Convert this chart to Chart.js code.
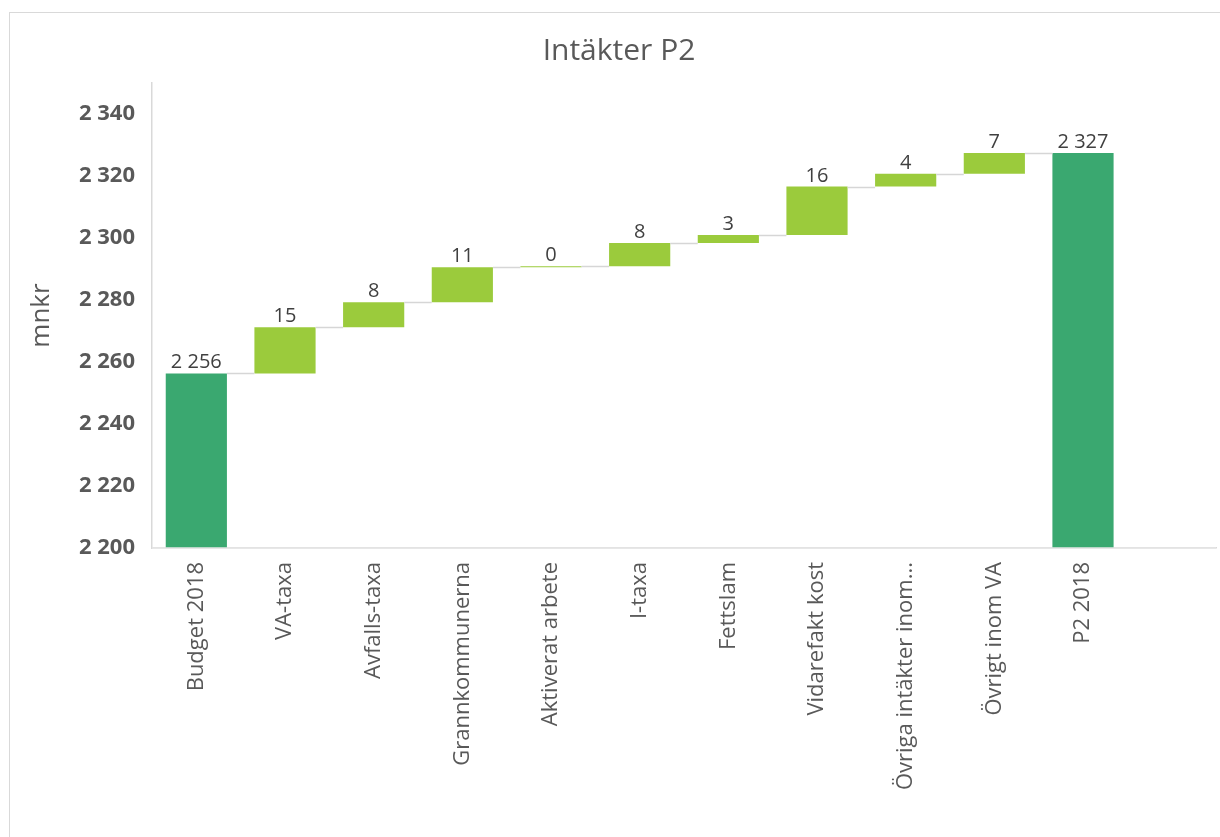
<!DOCTYPE html>
<html>
<head>
<meta charset="utf-8">
<script src="https://cdn.jsdelivr.net/npm/chart.js@4.4.1/dist/chart.umd.min.js"></script>
<style>
  html, body { margin: 0; padding: 0; background: #ffffff; }
  #frame { position: absolute; left: 9px; top: 12px; width: 1300px; height: 900px; border: 1px solid #d9d9d9; box-sizing: border-box; }
  #wrap { position: absolute; left: 0; top: 0; width: 1220px; height: 837px; }
</style>
</head>
<body>
<div id="frame"></div>
<div id="wrap"><canvas id="c"></canvas></div>
<script>
// ---- data ----
const categories = ['Budget 2018', 'VA-taxa', 'Avfalls-taxa', 'Grannkommunerna', 'Aktiverat arbete',
  'I-taxa', 'Fettslam', 'Vidarefakt kost', 'Övriga intäkter inom...', 'Övrigt inom VA', 'P2 2018'];
const startTotal = 2256.3;            // Budget 2018
const changes = [14.9, 8.1, 11.3, 0.3, 7.5, 2.6, 15.6, 4.1, 6.7];
const endTotal = 2327.4;              // P2 2018
const yMin = 2200, yMax = 2350, yStep = 20;
const chartTitle = 'Intäkter P2';
const yTitle = 'mnkr';

const totalColor = '#3AA870';
const changeColor = '#9BCB3C';
const textColor = '#595959';

function fmt(v) {
  return String(Math.round(v)).replace(/\B(?=(\d{3})+(?!\d))/g, ' ');
}

// build floating bars
const ranges = [];
const labelsVals = [];
const colors = [];
ranges.push([yMin, startTotal]); labelsVals.push(startTotal); colors.push(totalColor);
let run = startTotal;
changes.forEach(d => {
  ranges.push([run, run + d]); labelsVals.push(d); colors.push(changeColor);
  run += d;
});
ranges.push([yMin, endTotal]); labelsVals.push(endTotal); colors.push(totalColor);
// extra empty slot at the right end of the category axis
const xLabels = categories.concat(['']);
ranges.push(null);

const waterfallPlugin = {
  id: 'waterfall',
  afterDatasetsDraw(chart) {
    const ctx = chart.ctx;
    const meta = chart.getDatasetMeta(0);
    const y = chart.scales.y;
    const area = chart.chartArea;
    ctx.save();
    // axis line drawn over the total bars, as in the reference
    ctx.strokeStyle = '#e6e6e6';
    ctx.lineWidth = 1.5;
    ctx.beginPath();
    ctx.moveTo(area.left, area.bottom);
    ctx.lineTo(area.right, area.bottom);
    ctx.stroke();
    // connectors
    ctx.strokeStyle = '#d6d6d6';
    ctx.lineWidth = 1.5;
    for (let i = 0; i < categories.length - 1; i++) {
      const a = meta.data[i], b = meta.data[i + 1];
      const top = ranges[i][1];
      const py = Math.round(y.getPixelForValue(top)) + 0.5;
      ctx.beginPath();
      ctx.moveTo(a.x + a.width / 2, py);
      ctx.lineTo(b.x - b.width / 2, py);
      ctx.stroke();
    }
    // value labels
    ctx.fillStyle = '#404040';
    ctx.font = '20px "Open Sans"';
    ctx.textAlign = 'center';
    ctx.textBaseline = 'alphabetic';
    for (let i = 0; i < categories.length; i++) {
      const el = meta.data[i];
      const topVal = Math.max(ranges[i][0], ranges[i][1]);
      const py = y.getPixelForValue(topVal);
      ctx.fillText(fmt(labelsVals[i]), el.x, py - 5);
    }
    ctx.restore();
  }
};

new Chart(document.getElementById('c'), {
  type: 'bar',
  data: {
    labels: xLabels,
    datasets: [{
      data: ranges,
      backgroundColor: colors,
      borderWidth: 0,
      categoryPercentage: 1,
      barPercentage: 0.69,
      borderSkipped: false
    }]
  },
  options: {
    responsive: true,
    maintainAspectRatio: false,
    animation: false,
    layout: { padding: { left: 22, right: 4, top: 0, bottom: 0 } },
    plugins: {
      legend: { display: false },
      tooltip: { enabled: false },
      title: {
        display: true,
        text: chartTitle,
        color: textColor,
        font: { family: '"Open Sans"', size: 30, weight: 'normal' },
        padding: { top: 33, bottom: 14 }
      }
    },
    scales: {
      x: {
        grid: { display: true, color: 'transparent', drawTicks: false },
        border: { display: true, color: '#d9d9d9', width: 1.5 },
        ticks: {
          color: textColor,
          font: { family: '"Open Sans"', size: 22 },
          minRotation: 90, maxRotation: 90,
          autoSkip: false,
          padding: 14
        },
        afterFit(scale) { scale.height = 837 - 548; }
      },
      y: {
        min: yMin, max: yMax,
        grid: { display: true, color: 'transparent', drawTicks: false },
        border: { display: true, color: '#d9d9d9', width: 1.5 },
        ticks: {
          stepSize: yStep,
          color: textColor,
          font: { family: '"Open Sans"', size: 22, weight: 'bold' },
          padding: 17,
          callback: (v) => fmt(v)
        },
        afterBuildTicks(scale) {
          scale.ticks = scale.ticks.filter(t => (t.value - yMin) % yStep === 0);
        },
        title: {
          display: true,
          text: yTitle,
          color: textColor,
          font: { family: '"Open Sans"', size: 26 },
          padding: { top: 4, bottom: 0 }
        },
        afterFit(scale) { scale.width = 130; }
      }
    }
  },
  plugins: [waterfallPlugin]
});
</script>
</body>
</html>
